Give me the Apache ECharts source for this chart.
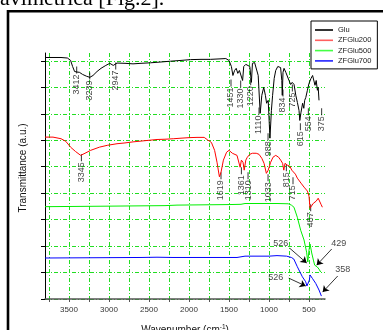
<!DOCTYPE html>
<html>
<head>
<meta charset="utf-8">
<script src="https://cdn.jsdelivr.net/npm/echarts@6/dist/echarts.min.js"></script>
<style>
    html, body { margin: 0; padding: 0; background: #fff; }
    #main { width: 383px; height: 330px; }
</style>
</head>
<body>
<div id="main"></div>
<script>
    // FTIR spectra: wavenumber (cm-1) / transmittance (a.u.)
    var gluWn = [3800,3600,3520,3480,3455,3430,3400,3370,3330,3280,3239,3200,3150,3100,3040,2990,2947,2900,2800,2700,2600,2480,2350,2230,2100,1980,1850,1730,1600,1540,1500,1470,1451,1430,1410,1390,1370,1330,1316,1290,1265,1240,1220,1207,1180,1160,1135,1110,1090,1066,1045,1030,1010,988,970,955,935,916,890,875,855,840,834,825,812,790,770,750,729,710,687,665,645,625,615,600,580,565,554,540,520,500,475,455,440,425,410,395,385,375];
    var gluT = [9.13,9.13,9.11,9.02,8.79,8.60,8.58,8.57,8.49,8.42,8.38,8.45,8.60,8.72,8.83,8.91,8.83,8.92,8.91,8.89,8.91,8.93,8.96,8.99,9.02,9.05,9.06,9.06,9.08,9.09,9.02,8.79,8.45,8.64,8.72,8.53,8.64,8.26,8.79,8.87,8.91,8.79,8.19,8.91,8.94,8.91,8.45,7.02,7.70,8.00,7.70,7.40,7.51,6.08,7.13,7.70,8.34,8.64,8.79,8.83,8.75,8.26,7.70,8.57,8.72,8.57,8.53,8.26,8.11,8.19,8.11,7.70,7.43,7.13,6.75,7.06,7.40,7.21,7.51,7.62,7.89,8.15,8.34,8.45,8.38,8.08,8.26,7.89,8.00,7.51];

    var z200Wn = [3800,3700,3600,3540,3480,3420,3354,3300,3229,3120,3021,2900,2800,2700,2600,2500,2400,2300,2190,2100,2000,1900,1810,1770,1720,1680,1650,1620,1600,1570,1530,1500,1458,1400,1375,1361,1345,1325,1310,1290,1271,1240,1208,1160,1125,1090,1062,1033,1010,979,950,916,880,854,830,815,800,771,740,715,700,670,646,600,562,520,500,487,470,445,410,385,375,350,333];
    var z200T = [6.12,6.12,6.06,5.96,5.74,5.58,5.43,5.51,5.62,5.74,5.81,5.87,5.90,5.94,5.97,6.00,6.03,6.04,6.06,6.08,6.10,6.11,6.11,6.02,5.92,5.62,5.17,4.62,4.79,5.25,5.55,5.62,5.51,5.43,5.36,4.98,5.25,5.17,4.87,5.25,5.36,5.47,5.51,5.51,5.47,5.32,5.13,4.75,4.87,5.17,5.36,5.43,5.36,5.25,5.13,4.87,5.13,5.06,5.02,4.87,4.94,4.72,4.57,4.38,4.23,4.08,3.89,3.43,3.51,3.62,3.70,3.81,3.77,3.58,3.47];

    var z500Wn = [3800,3000,2300,2150,1500,1350,1300,900,760,720,688,646,604,562,530,515,500,487,466,445,429,410,396,375,354];
    var z500T = [3.49,3.51,3.53,3.55,3.57,3.58,3.61,3.61,3.60,3.55,3.47,3.09,2.60,2.23,1.77,1.40,1.85,2.08,1.74,1.47,1.28,1.32,1.21,1.13,1.02];

    var z700Wn = [3800,2600,2400,2200,1400,1300,1000,900,780,720,690,646,583,541,526,512,495,487,458,416,375,345];
    var z700T = [1.55,1.57,1.58,1.57,1.57,1.62,1.62,1.64,1.62,1.57,1.51,1.22,0.84,0.65,0.49,0.44,0.72,0.91,0.78,0.59,0.34,0.11];

    // peak labels (text, where drawn, marker height)
    var gluPkText = ['3412','3239','2947','1451','1330','1220','1110','988','834','725','615','554','375'];
    var gluPkWn = [3404,3241,2916,1475,1354,1229,1125,1012,825,708,608,508,342];
    var gluPkT = [8.66,8.43,8.81,8.17,8.13,8.21,7.11,6.13,7.79,7.98,6.51,7.08,7.08];

    var z200PkText = ['3345','1619','1361','1310','1033','815','715','487'];
    var z200PkWn = [3345,1600,1345,1262,1012,783,700,479];
    var z200PkT = [5.34,4.66,4.85,4.66,4.58,4.96,4.47,3.45];

    // callouts with arrows on the 500 / 700 curves
    var calloutText = ['526','429','526','358'];
    var calloutWn = [854,129,916,79];
    var calloutT = [2.11,2.11,0.83,1.13];
    var arrowFrom = [[741,1.92],[216,1.89],[754,0.79],[141,0.87]];
    var arrowTo = [[529,1.36],[404,1.28],[541,0.49],[329,0.26]];

    var xTicks = [3750,3500,3250,3000,2750,2500,2250,2000,1750,1500,1250,1000,750,500];
    var xLabels = [3500,3000,2500,2000,1500,1000,500];
    var yTicks = [0,1,2,3,4,5,6,7,8,9];

    function zip(xs, ys) {
        var out = [];
        for (var i = 0; i < Math.min(xs.length, ys.length); i++) out.push([xs[i], ys[i]]);
        return out;
    }
    function peaks(txt, xs, ys) {
        return txt.map(function (t, i) { return { name: t, value: [xs[i], ys[i]] }; });
    }

    var font = 'Liberation Sans';
    var gridLine = { color: '#22dd22', width: 1, type: [4, 2, 1, 2] };

    var myChart = echarts.init(document.getElementById('main'));

    var peakLabel = {
        show: true, formatter: '{b}', position: 'bottom', distance: 1,
        rotate: 90, align: 'right', verticalAlign: 'middle',
        fontSize: 9, color: '#111', fontFamily: font
    };

    var option = {
        animation: false,
        graphic: [
            { type: 'rect', silent: true, z: -10, shape: { x: 8, y: 11.3, width: 420, height: 400 },
              style: { fill: 'none', stroke: '#000', lineWidth: 2.6 } },
            { type: 'text', silent: true, x: 0, y: -1,
              style: { text: 'avimetrica [Fig.2].', font: '22px "Liberation Serif"', fill: '#000', verticalAlign: 'middle' } }
        ],
        legend: {
            data: ['Glu', 'ZFGlu200', 'ZFGlu500', 'ZFGlu700'],
            orient: 'vertical', left: 311, top: 21, icon: 'rect',
            padding: [5, 6, 4, 4], itemWidth: 18, itemHeight: 1.6, itemGap: 2.3,
            borderColor: '#000', borderWidth: 1, backgroundColor: '#fff',
            textStyle: { fontSize: 7.5, color: '#222', fontFamily: font }
        },
        grid: { left: 45, right: 58, top: 53, bottom: 31, containLabel: false, outerBoundsMode: 'none' },
        xAxis: {
            type: 'value', inverse: true, min: 300, max: 3800,
            name: 'Wavenumber (cm{s|-1})', nameLocation: 'middle', nameGap: 25,
            nameTextStyle: { fontSize: 10, color: '#111', fontFamily: font,
                rich: { s: { fontSize: 6.5, verticalAlign: 'top', padding: [0, 0, 6, 0], fontFamily: font, color: '#111' } } },
            axisLine: { show: true, onZero: false, lineStyle: { color: '#555', width: 1.5 } },
            axisTick: { show: true, length: 3, customValues: xTicks, lineStyle: { color: '#555' } },
            axisLabel: { customValues: xLabels, fontSize: 8, color: '#333', margin: 7, fontFamily: font,
                formatter: function (v) { return String(v); } },
            splitLine: { show: true, lineStyle: gridLine }
        },
        yAxis: {
            type: 'value', min: 0, max: 9.3,
            name: 'Transmittance (a.u.)', nameLocation: 'middle', nameGap: 17,
            nameTextStyle: { fontSize: 10, color: '#111', fontFamily: font, padding: [0, 0, 0, 16] },
            axisLine: { show: true, onZero: false, lineStyle: { color: '#000', width: 1 } },
            axisTick: { show: true, length: 4, customValues: yTicks, lineStyle: { color: '#000' } },
            axisLabel: { show: false },
            splitLine: { show: true, lineStyle: gridLine }
        },
        series: [
            { name: 'Glu', type: 'line', data: zip(gluWn, gluT), symbol: 'none',
              lineStyle: { color: '#000', width: 1 }, itemStyle: { color: '#000' } },
            { name: 'ZFGlu200', type: 'line', data: zip(z200Wn, z200T), symbol: 'none',
              lineStyle: { color: '#ff0000', width: 1 }, itemStyle: { color: '#ff6060' } },
            { name: 'ZFGlu500', type: 'line', data: zip(z500Wn, z500T), symbol: 'none',
              lineStyle: { color: '#00ee00', width: 1 }, itemStyle: { color: '#44ff44' } },
            { name: 'ZFGlu700', type: 'line', data: zip(z700Wn, z700T), symbol: 'none',
              lineStyle: { color: '#0000ff', width: 1 }, itemStyle: { color: '#2222ff' } },
            { type: 'scatter', silent: true, clip: false, data: peaks(gluPkText, gluPkWn, gluPkT),
              symbol: 'rect', symbolSize: [1, 7], itemStyle: { color: '#000' }, label: peakLabel },
            { type: 'scatter', silent: true, clip: false, data: peaks(z200PkText, z200PkWn, z200PkT),
              symbol: 'rect', symbolSize: [1, 7], itemStyle: { color: '#000' }, label: peakLabel },
            { type: 'scatter', silent: true, clip: false, data: peaks(calloutText, calloutWn, calloutT),
              symbol: 'circle', symbolSize: 1, itemStyle: { color: 'transparent' },
              label: { show: true, formatter: '{b}', position: 'inside', fontSize: 9, color: '#111', fontFamily: font } },
            { type: 'lines', coordinateSystem: 'cartesian2d', silent: true, clip: false,
              data: arrowFrom.map(function (f, i) { return { coords: [f, arrowTo[i]] }; }),
              symbol: ['none', 'arrow'], symbolSize: 6,
              lineStyle: { color: '#000', width: 0.8, opacity: 1 } }
        ]
    };

    myChart.setOption(option);
</script>
</body>
</html>
